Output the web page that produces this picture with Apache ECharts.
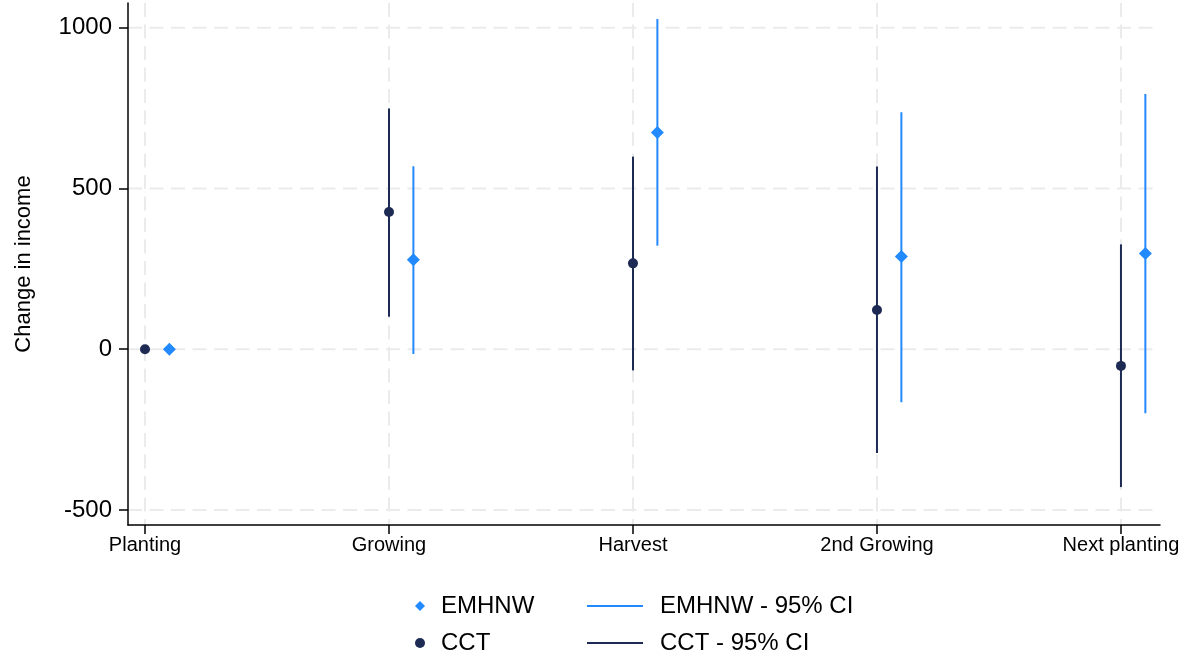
<!DOCTYPE html>
<html>
<head>
<meta charset="utf-8">
<script src="https://cdn.jsdelivr.net/npm/echarts@6/dist/echarts.min.js"></script>
<style>
html,body{margin:0;padding:0;background:#fff;}
#chart{width:1192px;height:660px;}
</style>
</head>
<body>
<div id="chart"></div>
<script>
// ---- data ----
const categories = ['Planting', 'Growing', 'Harvest', '2nd Growing', 'Next planting'];
const cctEst = [0, 427, 267, 122, -52];
const cctLo  = [null, 101, -66, -323, -429];
const cctHi  = [null, 749, 599, 568, 326];
const emEst  = [0, 278, 674, 288, 298];
const emLo   = [null, -15, 322, -165, -199];
const emHi   = [null, 569, 1027, 737, 794];
const yTicks = [-500, 0, 500, 1000];

// ---- style ----
const NAVY = '#1c2a54';
const BLUE = '#2389ff';
const OFFSET = 0.1;
const FONT = 'Liberation Sans, Arial, sans-serif';
const xIdx = categories.map((c, i) => i);

const cctPts = cctEst.map((v, i) => [i, v]);
const emPts = emEst.map((v, i) => [i + OFFSET, v]);
const cctCI = [], emCI = [];
categories.forEach((c, i) => {
  if (cctLo[i] != null) cctCI.push([i, cctLo[i], cctHi[i]]);
  if (emLo[i] != null) emCI.push([i + OFFSET, emLo[i], emHi[i]]);
});

function ciRender(color) {
  return function (params, api) {
    const p1 = api.coord([api.value(0), api.value(1)]);
    const p2 = api.coord([api.value(0), api.value(2)]);
    return {
      type: 'line',
      shape: { x1: p1[0], y1: p1[1], x2: p2[0], y2: p2[1] },
      style: { stroke: color, lineWidth: 2 }
    };
  };
}

// grid lines: [kind, value]  kind 0 = horizontal (y value), 1 = vertical (x value)
const gridData = yTicks.map(v => [0, v]).concat(xIdx.map(v => [1, v]));
function gridRender(params, api) {
  const cs = params.coordSys;
  const kind = api.value(0), v = api.value(1);
  let shape;
  if (kind === 0) {
    const y = api.coord([0, v])[1];
    shape = { x1: cs.x, y1: y, x2: cs.x + cs.width, y2: y };
  } else {
    const x = api.coord([v, 0])[0];
    shape = { x1: x, y1: cs.y, x2: x, y2: cs.y + cs.height };
  }
  return {
    type: 'line', shape: shape,
    style: { stroke: '#ebebeb', lineWidth: 2, lineDash: [14, 7.5] }
  };
}

const chart = echarts.init(document.getElementById('chart'), null, { renderer: 'canvas' });
chart.setOption({
  animation: false,
  backgroundColor: '#fff',
  textStyle: { fontFamily: FONT },
  grid: { left: 128, right: 32, top: 3, bottom: 135 },
  xAxis: {
    type: 'value',
    min: -0.0697,
    max: 4.16,
    axisLine: { onZero: false, lineStyle: { color: '#000', width: 1.5 } },
    axisTick: { show: true, length: 9, customValues: xIdx, lineStyle: { color: '#000', width: 1.5 } },
    axisLabel: {
      customValues: xIdx,
      formatter: v => categories[Math.round(v)],
      fontSize: 20, color: '#000', margin: 10, fontFamily: FONT
    },
    splitLine: { show: false }
  },
  yAxis: {
    type: 'value',
    min: -547,
    max: 1077,
    name: 'Change in income',
    nameLocation: 'middle',
    nameGap: 93,
    nameTextStyle: { fontSize: 22, color: '#000', fontFamily: FONT },
    axisLine: { onZero: false, lineStyle: { color: '#000', width: 1.5 } },
    axisTick: { show: true, length: 9, customValues: yTicks, lineStyle: { color: '#000', width: 1.5 } },
    axisLabel: { customValues: yTicks, formatter: v => String(v), fontSize: 24, color: '#000', margin: 16, fontFamily: FONT },
    splitLine: { show: false }
  },
  legend: [
    {
      left: 415, top: 594, orient: 'vertical', itemGap: 13, padding: 0,
      itemWidth: 10, itemHeight: 10,
      textStyle: { fontSize: 24, color: '#000', padding: [0, 0, 0, 11], fontFamily: FONT },
      data: [{ name: 'EMHNW', icon: 'diamond' }, { name: 'CCT', icon: 'circle' }]
    },
    {
      left: 587, top: 594, orient: 'vertical', itemGap: 13, padding: 0,
      itemWidth: 56, itemHeight: 2,
      textStyle: { fontSize: 24, color: '#000', padding: [0, 0, 0, 12], fontFamily: FONT },
      data: [{ name: 'EMHNW - 95% CI', icon: 'rect' }, { name: 'CCT - 95% CI', icon: 'rect' }]
    }
  ],
  series: [
    {
      name: 'grid', type: 'custom', z: 0, silent: true,
      renderItem: gridRender,
      encode: { x: -1, y: -1 },
      data: gridData,
      clip: false
    },
    {
      name: 'CCT - 95% CI', type: 'custom', z: 2,
      itemStyle: { color: NAVY },
      renderItem: ciRender(NAVY),
      encode: { x: 0, y: [1, 2] },
      data: cctCI
    },
    {
      name: 'EMHNW - 95% CI', type: 'custom', z: 2,
      itemStyle: { color: BLUE },
      renderItem: ciRender(BLUE),
      encode: { x: 0, y: [1, 2] },
      data: emCI
    },
    {
      name: 'CCT', type: 'scatter', z: 3, symbol: 'circle', symbolSize: 10,
      itemStyle: { color: NAVY, opacity: 1 },
      data: cctPts
    },
    {
      name: 'EMHNW', type: 'scatter', z: 3, symbol: 'diamond', symbolSize: 13,
      itemStyle: { color: BLUE, opacity: 1 },
      data: emPts
    }
  ]
});
</script>
</body>
</html>
